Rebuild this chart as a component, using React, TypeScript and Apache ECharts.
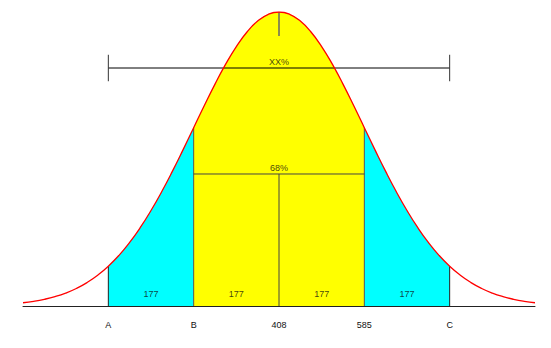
import React, { useEffect, useRef } from "react";
import * as echarts from "echarts";

const MEAN = 408;
const SD = 177;
// standardized positions (in SDs) and relative curve heights
const Z = [-3, -2.875, -2.75, -2.625, -2.5, -2.375, -2.25, -2.125, -2, -1.875, -1.75, -1.625, -1.5, -1.375, -1.25, -1.125, -1, -0.875, -0.75, -0.625, -0.5, -0.375, -0.25, -0.125, 0, 0.125, 0.25, 0.375, 0.5, 0.625, 0.75, 0.875, 1, 1.125, 1.25, 1.375, 1.5, 1.625, 1.75, 1.875, 2, 2.125, 2.25, 2.375, 2.5, 2.625, 2.75, 2.875, 3];
const HEIGHT = [0.0111, 0.016, 0.0228, 0.0319, 0.0439, 0.0596, 0.0796, 0.1046, 0.1353, 0.1724, 0.2163, 0.2671, 0.3247, 0.3886, 0.4578, 0.5311, 0.6065, 0.6819, 0.7548, 0.8226, 0.8825, 0.9321, 0.9692, 0.9922, 1, 0.9922, 0.9692, 0.9321, 0.8825, 0.8226, 0.7548, 0.6819, 0.6065, 0.5311, 0.4578, 0.3886, 0.3247, 0.2671, 0.2163, 0.1724, 0.1353, 0.1046, 0.0796, 0.0596, 0.0439, 0.0319, 0.0228, 0.016, 0.0111];
const TICK_VALUES = [54, 231, 408, 585, 762];
const TICK_LABELS = ["A", "B", "408", "585", "C"];
const SEG_CENTERS = [142.5, 319.5, 496.5, 673.5];
const SEG_LABELS = ["177", "177", "177", "177"];
const BAND_68 = 0.449;
const BAND_XX = 0.8095;
const BAND_68_LABEL = "68%";
const BAND_XX_LABEL = "XX%";

const FONT = "Liberation Sans, Arial, sans-serif";

export default function App() {
  const ref = useRef<HTMLDivElement>(null);
  useEffect(() => {
    const chart = echarts.init(ref.current!, undefined, { renderer: "svg" });
    const pts = Z.map((z, i) => [MEAN + z * SD, HEIGHT[i]]);
    const seg = (a: number, b: number) => pts.filter((_, i) => Z[i] >= a && Z[i] <= b);
    const heightAt = (v: number) => {
      const i = Z.findIndex((z) => Math.abs(MEAN + z * SD - v) < 1e-6);
      return HEIGHT[i];
    };
    const lineS = (data: number[][], color = "#333", width = 1) => ({
      type: "line",
      data,
      symbol: "none",
      silent: true,
      z: 3,
      lineStyle: { color, width },
    });
    const area = (data: number[][], color: string) => ({
      type: "line",
      data,
      smooth: true,
      symbol: "none",
      z: 1,
      lineStyle: { width: 0, opacity: 0 },
      areaStyle: { color, opacity: 1 },
    });
    const A = TICK_VALUES[0], B = TICK_VALUES[1], M = TICK_VALUES[2], D = TICK_VALUES[3], C = TICK_VALUES[4];
    const labelPts = [
      ...SEG_CENTERS.map((x, i) => ({ value: [x, 0.041], label: SEG_LABELS[i] })),
      { value: [M, BAND_68 + 0.02], label: BAND_68_LABEL },
      { value: [M, BAND_XX + 0.02], label: BAND_XX_LABEL },
    ];
    chart.setOption({
      animation: false,
      backgroundColor: "#fff",
      grid: { left: 23, right: 16, top: 12, bottom: 42 },
      xAxis: {
        type: "value",
        min: MEAN - 3 * SD,
        max: MEAN + 3 * SD,
        splitLine: { show: false },
        axisLine: { show: true, onZero: false, lineStyle: { color: "#222", width: 1 } },
        axisTick: { show: false },
        axisLabel: {
          customValues: TICK_VALUES,
          formatter: (v: number) => TICK_LABELS[TICK_VALUES.indexOf(v)] ?? "",
          color: "#111",
          fontSize: 9,
          fontFamily: FONT,
          margin: 14,
        },
      },
      yAxis: { type: "value", min: 0, max: 1, show: false },
      series: [
        area(seg(-2, -1), "#00ffff"),
        area(seg(-1, 1), "#ffff00"),
        area(seg(1, 2), "#00ffff"),
        lineS([[A, 0], [A, heightAt(A)]], "#222"),
        lineS([[C, 0], [C, heightAt(C)]], "#222"),
        lineS([[B, 0], [B, heightAt(B)]], "#555"),
        lineS([[D, 0], [D, heightAt(D)]], "#555"),
        lineS([[M, 0], [M, BAND_68]], "#444"),
        lineS([[B, BAND_68], [D, BAND_68]], "#444"),
        lineS([[A, BAND_XX], [C, BAND_XX]], "#000"),
        lineS([[A, BAND_XX - 0.045], [A, BAND_XX + 0.045]], "#333"),
        lineS([[C, BAND_XX - 0.045], [C, BAND_XX + 0.045]], "#333"),
        lineS([[M, 1], [M, 0.918]], "#666", 1.5),
        {
          type: "line",
          data: pts,
          smooth: true,
          symbol: "none",
          z: 4,
          lineStyle: { color: "#ff0000", width: 1.3 },
        },
        {
          type: "scatter",
          symbolSize: 0,
          z: 5,
          data: labelPts.map((p) => ({ value: p.value, name: p.label })),
          label: {
            show: true,
            position: "inside",
            formatter: (p: any) => p.name,
            color: "#111",
            fontSize: 9,
            fontFamily: FONT,
          },
        },
      ],
    });
    return () => chart.dispose();
  }, []);
  return (
    <div
      ref={ref}
      style={{ position: "absolute", left: 0, top: 0, width: 551, height: 348 }}
    />
  );
}
